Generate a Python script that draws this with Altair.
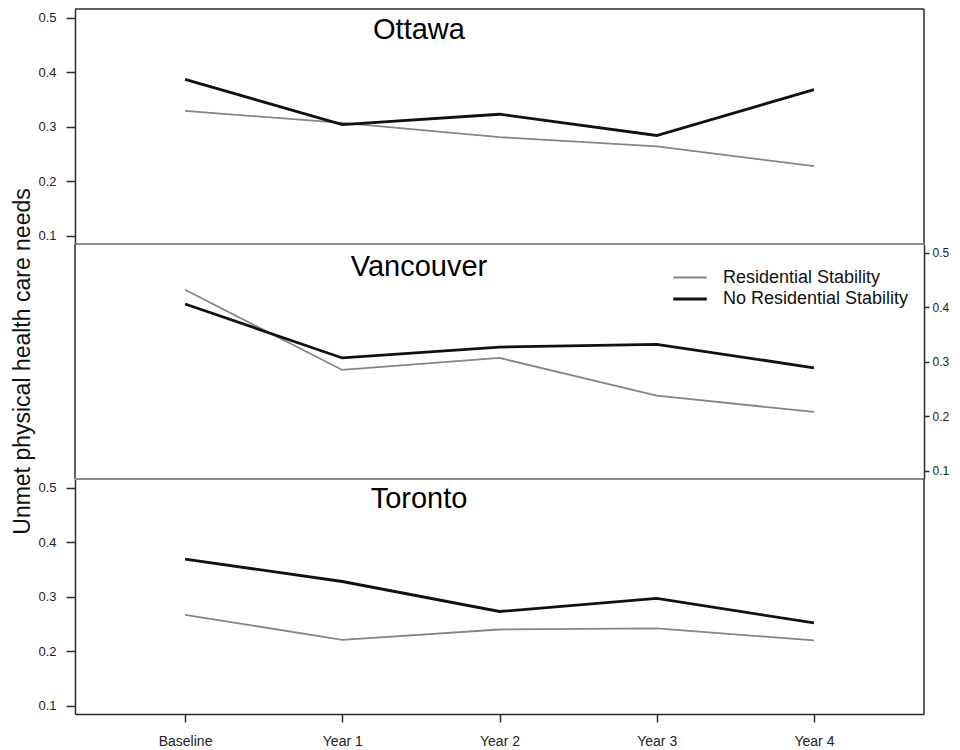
import altair as alt
import pandas as pd

# ---------------- data ----------------
cities = ["Ottawa", "Vancouver", "Toronto"]
times = ["Baseline", "Year 1", "Year 2", "Year 3", "Year 4"]
series = ["Residential Stability", "No Residential Stability"]
y_ticks = [0.1, 0.2, 0.3, 0.4, 0.5]
y_title = "Unmet physical health care needs"

ottawa_rs = [0.329, 0.307, 0.281, 0.264, 0.228]
ottawa_nrs = [0.387, 0.304, 0.323, 0.284, 0.368]
vancouver_rs = [0.432, 0.285, 0.307, 0.238, 0.208]
vancouver_nrs = [0.406, 0.307, 0.327, 0.332, 0.289]
toronto_rs = [0.267, 0.221, 0.240, 0.242, 0.220]
toronto_nrs = [0.369, 0.328, 0.273, 0.297, 0.252]

values = {
    "Ottawa": (ottawa_rs, ottawa_nrs),
    "Vancouver": (vancouver_rs, vancouver_nrs),
    "Toronto": (toronto_rs, toronto_nrs),
}

# ---------------- style ----------------
W = 849
H = 235
FONT = "Liberation Sans"
DARK = "#2b2b2b"
SEP = "#8c8c8c"

x_scale = alt.Scale(domain=times, padding=0.7)
y_scale = alt.Scale(domain=[0.085, 0.516], nice=False, zero=False)
color_scale = alt.Scale(domain=series, range=["#858585", "#111111"])
sw_scale = alt.Scale(domain=series, range=[1.8, 2.8])


def frame(city):
    rs, nrs = values[city]
    rows = []
    for t, a, b in zip(times, rs, nrs):
        rows.append({"time": t, "series": series[0], "value": a})
        rows.append({"time": t, "series": series[1], "value": b})
    return pd.DataFrame(rows)


one = pd.DataFrame({"k": [0]})


def hrule(y, color, width):
    return alt.Chart(one).mark_rule(color=color, strokeWidth=width).encode(
        x=alt.value(0), x2=alt.value(W), y=alt.value(y)
    )


def vrule(x, color, width):
    return alt.Chart(one).mark_rule(color=color, strokeWidth=width).encode(
        x=alt.value(x), y=alt.value(0), y2=alt.value(H)
    )


def panel(city, y_orient, show_x, show_legend, title_y, extras):
    df = frame(city)
    if y_orient == "left":
        yaxis = alt.Axis(orient="left", values=y_ticks, format=".1f", title=None,
                         grid=False, tickSize=9, labelPadding=10, labelFontSize=13,
                         labelFont=FONT, labelColor="#222", domainColor=DARK,
                         tickColor=DARK, domainWidth=1.5, tickWidth=1.5)
    else:
        yaxis = alt.Axis(orient="right", values=y_ticks, format=".1f", title=None,
                         grid=False, tickSize=5, labelPadding=3, labelFontSize=12,
                         labelFont=FONT, labelColor="#222", domainColor=DARK,
                         tickColor=DARK, domainWidth=1.5, tickWidth=1.5)
    if show_x:
        xaxis = alt.Axis(title=None, labelAngle=0, tickSize=8, labelPadding=12,
                         labelFontSize=14, labelFont=FONT, labelColor="#222",
                         domainColor=DARK, tickColor=DARK, domainWidth=1.5,
                         tickWidth=1.5, grid=False)
    else:
        xaxis = None
    if show_legend:
        legend = alt.Legend(orient="none", legendX=603, legendY=22, title=None,
                            symbolType="M-1.6,0H1.6", symbolSize=441,
                            labelFontSize=18, labelFont=FONT, labelColor="#111",
                            labelOffset=21, rowPadding=-1, padding=0,
                            labelLimit=0)
    else:
        legend = None

    lines = alt.Chart(df).mark_line().encode(
        x=alt.X("time:N", sort=times, scale=x_scale, axis=xaxis),
        y=alt.Y("value:Q", scale=y_scale, axis=yaxis),
        color=alt.Color("series:N", scale=color_scale, sort=series, legend=legend),
        strokeWidth=alt.StrokeWidth("series:N", scale=sw_scale, sort=series, legend=legend),
    )
    label = alt.Chart(pd.DataFrame({"city": [city]})).mark_text(
        font=FONT, fontSize=29, color="#000", align="center", baseline="middle"
    ).encode(text="city:N", x=alt.value(344), y=alt.value(title_y))

    return alt.layer(*extras, lines, label).properties(width=W, height=H)


ottawa = panel("Ottawa", "left", False, False, 21,
               [hrule(0, DARK, 1.5), vrule(W, DARK, 1.5), hrule(H, SEP, 2)])

vancouver_title = alt.Chart(pd.DataFrame({"t": [y_title]})).mark_text(
    font=FONT, fontSize=23, color="#111", angle=270, align="center", baseline="middle"
).encode(text="t:N", x=alt.value(-52), y=alt.value(H / 2))

vancouver = panel("Vancouver", "right", False, True, 23,
                  [vrule(0, DARK, 1.5), vancouver_title])

toronto = panel("Toronto", "left", True, False, 20,
                [hrule(0, SEP, 2), vrule(W, DARK, 1.5)])

chart = alt.vconcat(ottawa, vancouver, toronto, spacing=0, bounds="flush").resolve_scale(
    color="independent", strokeWidth="independent"
).properties(
    padding={"left": 3, "top": 0, "right": 0, "bottom": 0}
).configure_view(stroke=None)

chart.save("out.html", embed_options={"renderer": "svg", "actions": False})
